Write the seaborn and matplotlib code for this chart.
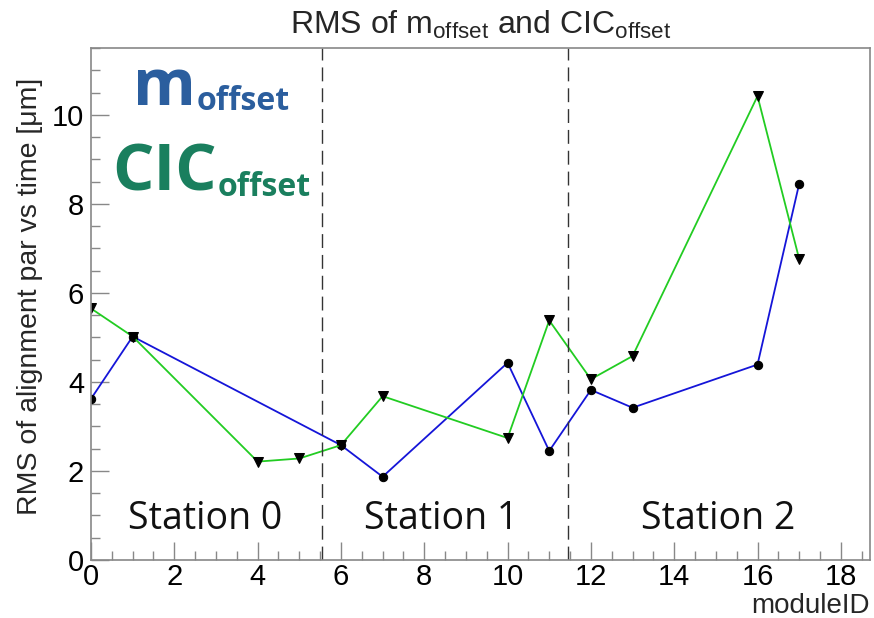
import matplotlib
matplotlib.use("Agg")
import matplotlib.pyplot as plt
import seaborn as sns
import pandas as pd

# module IDs and RMS values
m_modules = [0, 1, 6, 7, 10, 11, 12, 13, 16, 17]
m_rms = [3.62, 5.02, 2.58, 1.87, 4.43, 2.45, 3.82, 3.42, 4.39, 8.45]

cic_modules = [0, 1, 4, 5, 6, 7, 10, 11, 12, 13, 16, 17]
cic_rms = [5.65, 5.02, 2.21, 2.28, 2.58, 3.68, 2.74, 5.38, 4.06, 4.58, 10.42, 6.76]

station_edges = [5.55, 11.45]
station_labels = ["Station 0", "Station 1", "Station 2"]
station_pos = [2.75, 8.4, 15.05]

m_df = pd.DataFrame({"moduleID": m_modules, "rms": m_rms})
cic_df = pd.DataFrame({"moduleID": cic_modules, "rms": cic_rms})

sns.set_style("white")
plt.rcParams['font.family'] = ['Liberation Sans', 'DejaVu Sans']
plt.rcParams['mathtext.default'] = 'regular'

fig = plt.figure(figsize=(8.74, 6.18), dpi=100)
ax = fig.add_axes([91/874, 58/618, 779/874, 512/618])

sns.lineplot(data=m_df, x="moduleID", y="rms", ax=ax, color="#1515d8", lw=1.3,
             marker="o", markersize=6, markerfacecolor="black",
             markeredgecolor="black", sort=False)
sns.lineplot(data=cic_df, x="moduleID", y="rms", ax=ax, color="#22cc22", lw=1.3,
             marker="v", markersize=7, markerfacecolor="black",
             markeredgecolor="black", sort=False)

for xe in station_edges:
    ax.axvline(xe, color="#333333", lw=1, ls=(0, (10, 5)))

for lab, xp in zip(station_labels, station_pos):
    ax.text(xp, 0.92, lab, ha="center", va="center", fontsize=27,
            family=["Open Sans", "DejaVu Sans"], color="#111111")

# big coloured legend-like labels
t1 = ax.text(1.0, 10.22, "m", fontsize=46, fontweight="bold", color="#2b5e9e",
             family=["Open Sans", "DejaVu Sans"], va="baseline", ha="left")
ax.annotate("offset", xy=(1, 0), xycoords=t1, xytext=(1, 2), textcoords="offset points",
            fontsize=23, fontweight="bold", color="#2b5e9e",
            family=["Open Sans", "DejaVu Sans"], va="bottom", ha="left")
t2 = ax.text(0.5, 8.3, "CIC", fontsize=47, fontweight="bold", color="#1a7f5e",
             family=["Open Sans", "DejaVu Sans"], va="baseline", ha="left")
ax.annotate("offset", xy=(1, 0), xycoords=t2, xytext=(1, 2), textcoords="offset points",
            fontsize=23, fontweight="bold", color="#1a7f5e",
            family=["Open Sans", "DejaVu Sans"], va="bottom", ha="left")

ax.set_xlim(0, 18.7)
ax.set_ylim(0, 11.5)
ax.xaxis.set_major_locator(matplotlib.ticker.MultipleLocator(2))
ax.xaxis.set_minor_locator(matplotlib.ticker.MultipleLocator(0.5))
ax.yaxis.set_major_locator(matplotlib.ticker.MultipleLocator(2))
ax.yaxis.set_minor_locator(matplotlib.ticker.MultipleLocator(0.5))
ax.tick_params(which="both", direction="in", color="#888888", labelsize=21,
               labelcolor="black", top=False, right=False, bottom=True, left=True)
ax.tick_params(which="major", length=13, width=1)
ax.tick_params(which="minor", length=6.5, width=1)
ax.tick_params(axis="x", pad=2)
ax.tick_params(axis="y", pad=5)
for sp in ax.spines.values():
    sp.set_color("#888888")
    sp.set_linewidth(1.2)

ax.set_title(r"RMS of m$_{offset}$ and CIC$_{offset}$", fontsize=23, pad=10)
ax.set_xlabel("moduleID", fontsize=20, ha="right")
ax.xaxis.set_label_coords(1.0, -0.064)
ax.set_ylabel("RMS of alignment par vs time [μm]", fontsize=20.5)
ax.yaxis.set_label_coords(-0.062, 0.514)

fig.savefig("out.png", dpi=100)
